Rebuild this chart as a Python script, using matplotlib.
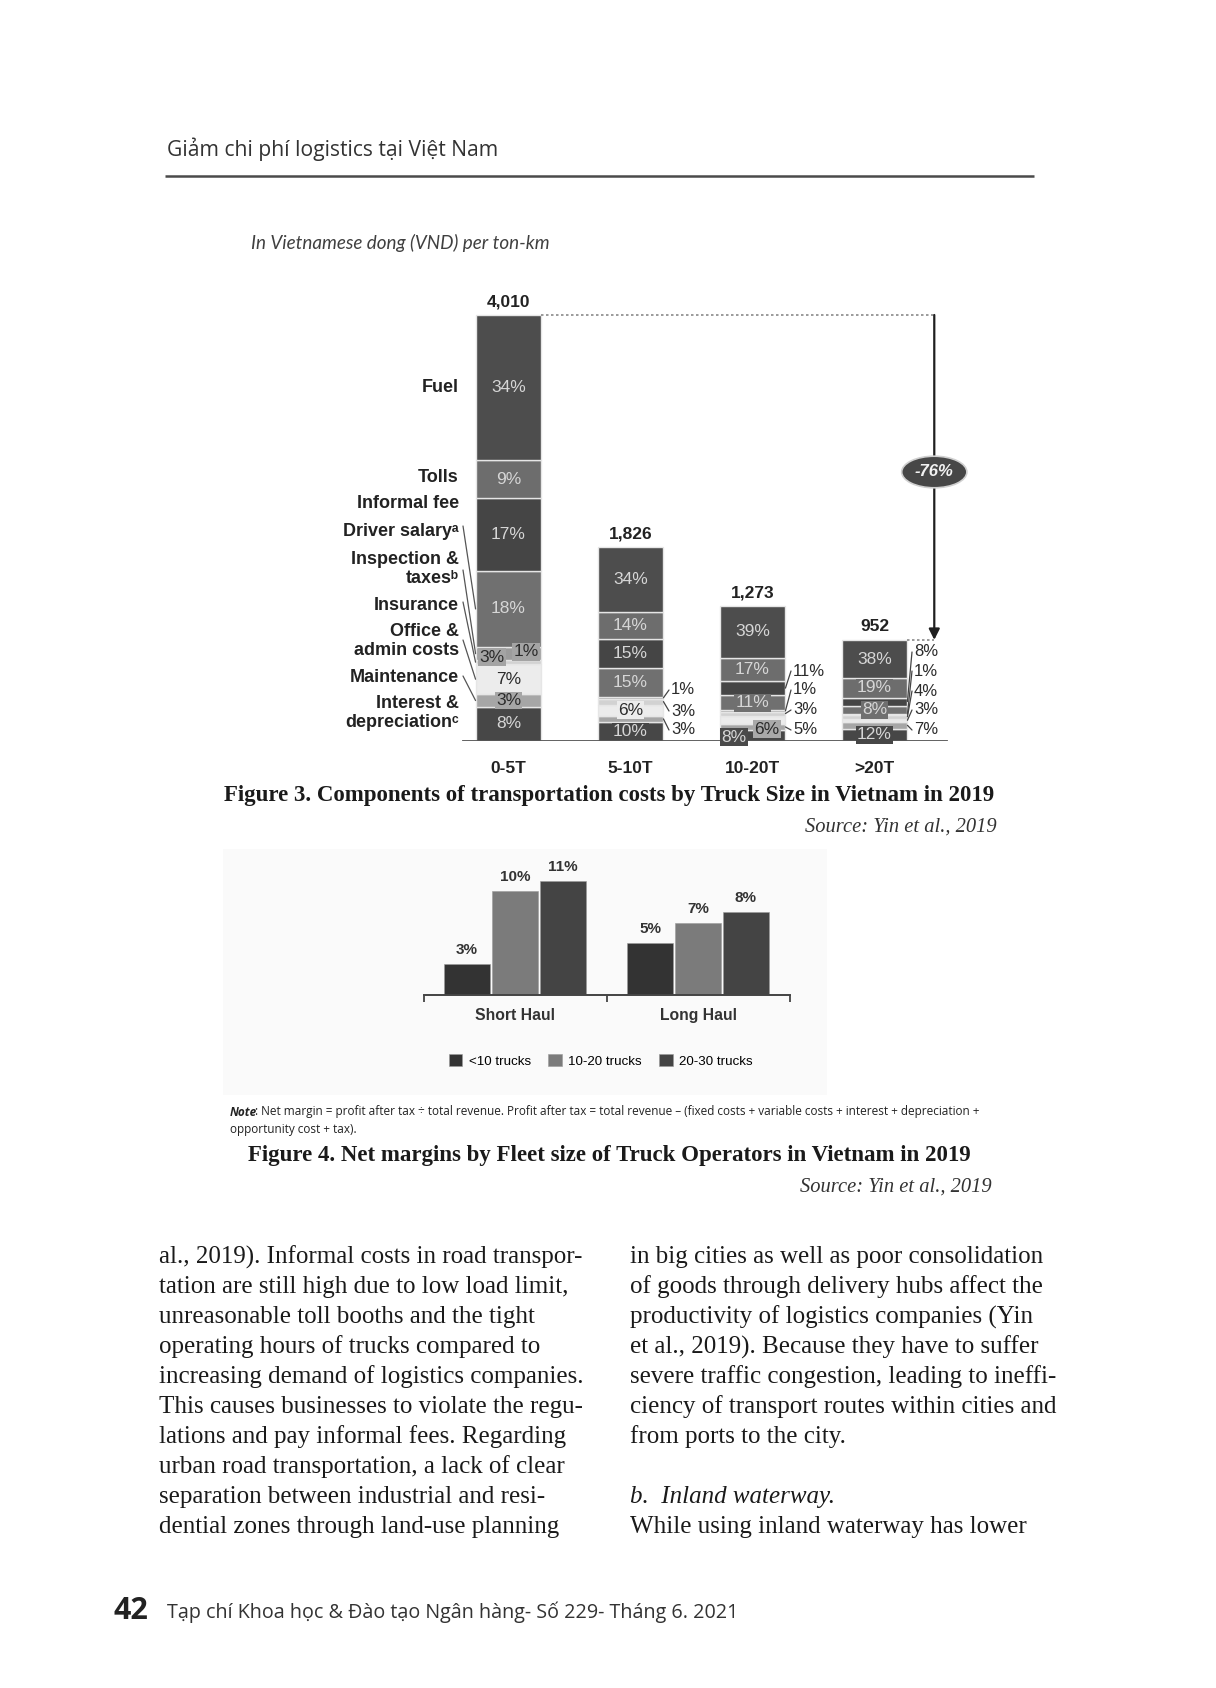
import matplotlib
matplotlib.use("Agg")
import matplotlib.pyplot as plt
from matplotlib.patches import Rectangle, ConnectionPatch
import numpy as np

# ---------------- data ----------------
truck_sizes = ["0-5T", "5-10T", "10-20T", ">20T"]
total_cost_vnd = [4010, 1826, 1273, 952]
cost_components = ["Fuel", "Tolls", "Informal fee", "Driver salary", "Inspection & taxes",
                   "Insurance", "Office & admin costs", "Maintenance", "Interest & depreciation"]
component_labels = ["Fuel", "Tolls", "Informal fee", "Driver salaryᵃ", "Inspection &\ntaxesᵇ",
                    "Insurance", "Office &\nadmin costs", "Maintenance", "Interest &\ndepreciationᶜ"]
fuel_pct = [34, 34, 39, 38]
tolls_pct = [9, 14, 17, 19]
informal_fee_pct = [17, 15, 11, 8]
driver_salary_pct = [18, 15, 11, 8]
inspection_taxes_pct = [3, 1, 1, 1]
insurance_pct = [1, 3, 3, 4]
office_admin_pct = [7, 6, 6, 3]
maintenance_pct = [3, 3, 5, 7]
interest_depreciation_pct = [8, 10, 8, 12]

haul_types = ["Short Haul", "Long Haul"]
fleet_sizes = ["<10 trucks", "10-20 trucks", "20-30 trucks"]
margin_lt10 = [3, 5]
margin_10_20 = [10, 7]
margin_20_30 = [11, 8]

left_column = [
    "al., 2019). Informal costs in road transpor-",
    "tation are still high due to low load limit,",
    "unreasonable toll booths and the tight",
    "operating hours of trucks compared to",
    "increasing demand of logistics companies.",
    "This causes businesses to violate the regu-",
    "lations and pay informal fees. Regarding",
    "urban road transportation, a lack of clear",
    "separation between industrial and resi-",
    "dential zones through land-use planning",
]
right_column = [
    "in big cities as well as poor consolidation",
    "of goods through delivery hubs affect the",
    "productivity of logistics companies (Yin",
    "et al., 2019). Because they have to suffer",
    "severe traffic congestion, leading to ineffi-",
    "ciency of transport routes within cities and",
    "from ports to the city.",
]

# ---------------- page ----------------
W, H = 1216, 1688
fig = plt.figure(figsize=(W / 100, H / 100), dpi=100)
fig.patch.set_facecolor("white")

page = fig.add_axes([0, 0, 1, 1], zorder=0)
page.set_xlim(0, W)
page.set_ylim(H, 0)
page.axis("off")


def px_axes(x0, y0, x1, y1, z=2):
    a = fig.add_axes([x0 / W, 1 - y1 / H, (x1 - x0) / W, (y1 - y0) / H], zorder=z)
    a.set_facecolor("none")
    return a


SANS = ["Liberation Sans", "DejaVu Sans"]
SERIF = ["Liberation Serif", "DejaVu Serif"]
OPEN = ["Open Sans", "DejaVu Sans"]

# header
page.text(167, 149, "Giảm chi phí logistics tại Việt Nam", family=OPEN, fontsize=15.2,
          color="#333333", va="center", ha="left")
page.plot([165, 1034], [175.5, 175.5], color="#4a4a4a", lw=1.8, solid_capstyle="butt")

page.text(251, 243, "In Vietnamese dong (VND) per ton-km", family=["Lato", "DejaVu Sans"],
          style="italic", fontsize=13.6, color="#404040", va="center", ha="left")

# ---------------- Figure 3 : stacked bars ----------------
ax1 = px_axes(270, 270, 1010, 741)
x0px, dxpx = 508.5, 122.0
ax1.set_xlim((270 - x0px) / dxpx, (1010 - x0px) / dxpx)
vpp = 4010 / 426.0
ax1.set_ylim(0, (741 - 270) * vpp)
ax1.axis("off")

shares_top_down = np.array([fuel_pct, tolls_pct, informal_fee_pct, driver_salary_pct,
                            inspection_taxes_pct, insurance_pct, office_admin_pct,
                            maintenance_pct, interest_depreciation_pct], dtype=float)
seg_colors = ["#4d4d4d", "#6d6d6d", "#454545", "#707070", "#9c9c9c",
              "#d2d2d2", "#ececec", "#a6a6a6", "#474747"]
txt_colors = ["#d6d6d6", "#d6d6d6", "#d6d6d6", "#d6d6d6", "#2b2b2b",
              "#2b2b2b", "#2b2b2b", "#2b2b2b", "#d6d6d6"]
totals = np.array(total_cost_vnd, dtype=float)
seg_vals = shares_top_down / shares_top_down.sum(axis=0) * totals
xs = np.arange(len(truck_sizes))
bw = 0.54
n = len(cost_components)
bottoms = np.zeros((n, len(xs)))
acc = np.zeros(len(xs))
for k in range(n - 1, -1, -1):
    bottoms[k] = acc
    ax1.bar(xs, seg_vals[k], bottom=acc, width=bw, color=seg_colors[k],
            edgecolor="#e6e6e6", linewidth=1.0, zorder=2)
    acc = acc + seg_vals[k]
mids = bottoms + seg_vals / 2

# labels placed outside (page px) with leader lines
outside = {
    (1, 4): (671, 690), (1, 5): (671, 711), (1, 7): (671, 730),
    (2, 2): (793, 671), (2, 4): (793, 690), (2, 5): (793, 710), (2, 7): (793, 730),
    (3, 2): (914, 652), (3, 4): (914, 671), (3, 5): (914, 691), (3, 6): (914, 710), (3, 7): (914, 730),
}
# in-bar labels in boxes at shifted positions (page px)
boxed = {
    (0, 4): (492, 657, "#a4a4a4"), (0, 5): (526, 652, "#a4a4a4"),
    (2, 6): (767, 729, "#a9a9a9"), (2, 8): (734, 737, "#4a4a4a"),
}
for i in range(len(xs)):
    for k in range(n):
        lab = f"{int(shares_top_down[k, i])}%"
        if (i, k) in outside:
            px, py = outside[(i, k)]
            page.text(px, py, lab, family=SANS, fontsize=12, color="#2b2b2b",
                      ha="left", va="center", zorder=5)
            con = ConnectionPatch(xyA=(px - 2, py), coordsA=page.transData,
                                  xyB=(xs[i] + bw / 2, mids[k, i]), coordsB=ax1.transData,
                                  color="#444444", lw=0.9, zorder=6)
            fig.add_artist(con)
        elif (i, k) in boxed:
            px, py, bc = boxed[(i, k)]
            ax1.text(px, py, lab, family=SANS, fontsize=12.5, color=txt_colors[k],
                     ha="center", va="center", zorder=6, transform=page.transData, clip_on=False,
                     bbox=dict(boxstyle="square,pad=0.1", fc=bc, ec="none"))
        else:
            ax1.text(xs[i], mids[k, i], lab, family=SANS, fontsize=12.5, color=txt_colors[k],
                     ha="center", va="center", zorder=4,
                     bbox=dict(boxstyle="square,pad=0.08", fc=seg_colors[k], ec="none"))

# totals
for i, t in enumerate(total_cost_vnd):
    ax1.annotate(f"{t:,}", (xs[i], t), xytext=(0, 4), textcoords="offset points",
                 ha="center", va="bottom", family=SANS, fontsize=12.5, fontweight="bold",
                 color="#222222")

# category labels
for i, c in enumerate(truck_sizes):
    ax1.annotate(c, (xs[i], 0), xytext=(0, -20), textcoords="offset points",
                 ha="center", va="center", family=SANS, fontsize=12.5, fontweight="bold",
                 color="#222222")

# baseline
ax1.plot([-0.373, 3.594], [0, 0], color="#555555", lw=1.3, zorder=3)

# reduction arrow
arrow_x = 3.49
ax1.plot([xs[0] + bw / 2, arrow_x], [total_cost_vnd[0]] * 2, color="#8a8a8a", lw=1.2,
         ls=(0, (1.5, 1.5)), zorder=3)
ax1.plot([xs[3] + bw / 2, arrow_x], [total_cost_vnd[3]] * 2, color="#8a8a8a", lw=1.2,
         ls=(0, (1.5, 1.5)), zorder=3)
ax1.annotate("", xy=(arrow_x, total_cost_vnd[3]), xytext=(arrow_x, total_cost_vnd[0]),
             arrowprops=dict(arrowstyle="-|>", color="#1f1f1f", lw=1.6, mutation_scale=16,
                             shrinkA=0, shrinkB=0), zorder=4)
change = (total_cost_vnd[3] - total_cost_vnd[0]) / total_cost_vnd[0] * 100
ax1.text(arrow_x, (741 - 472) * vpp, f"{change:.0f}%", ha="center", va="center",
         family=SANS, fontsize=12, fontweight="bold", style="italic", color="#f2f2f2",
         zorder=6, bbox=dict(boxstyle="ellipse,pad=0.22", fc="#474747", ec="#d0d0d0", lw=1.2))

# component names on the left
name_pos = [387, 478, 504, 532, 569, 605, 641, 677, 713]
leader = {3: 526, 4: 570, 5: 602, 6: 640, 7: 676}
for k, (lab, py) in enumerate(zip(component_labels, name_pos)):
    page.text(459, py, lab, family=SANS, fontsize=13, fontweight="bold", color="#222222",
              ha="right", va="center", multialignment="right", linespacing=1.15, zorder=5)
    if k in leader:
        con = ConnectionPatch(xyA=(463, leader[k]), coordsA=page.transData,
                              xyB=(xs[0] - bw / 2, mids[k, 0]), coordsB=ax1.transData,
                              color="#555555", lw=0.9, zorder=6)
        fig.add_artist(con)

page.text(609, 795, "Figure 3. Components of transportation costs by Truck Size in Vietnam in 2019",
          family=SERIF, fontsize=16.5, fontweight="bold", ha="center", va="center", color="#1a1a1a")
page.text(997, 827, "Source: Yin et al., 2019", family=SERIF, style="italic", fontsize=14.8,
          ha="right", va="center", color="#333333")

# ---------------- Figure 4 : grouped bars ----------------
page.add_patch(Rectangle((223, 849), 604, 246, facecolor="#fafafa", edgecolor="none", zorder=0))

ax2 = px_axes(300, 840, 840, 995.4)
g0, gdx = 515.0, 183.0
ax2.set_xlim((300 - g0) / gdx, (840 - g0) / gdx)
ppp = 10.4
ax2.set_ylim(0, (995.4 - 840) / ppp)
series = [margin_lt10, margin_10_20, margin_20_30]
bar_cols = ["#333333", "#7b7b7b", "#444444"]
gx = np.arange(len(haul_types))
off = 0.262
handles = []
for j, (vals, col) in enumerate(zip(series, bar_cols)):
    b = ax2.bar(gx + (j - 1) * off, vals, width=0.252, color=col, edgecolor="#9a9a9a",
                linewidth=0.4, zorder=2)
    handles.append(b)
    for xv, v in zip(gx + (j - 1) * off, vals):
        ax2.annotate(f"{v}%", (xv, v), xytext=(0, 5), textcoords="offset points",
                     ha="center", va="bottom", family=SANS, fontsize=11,
                     fontweight="bold", color="#333333")
for s in ["top", "right", "left"]:
    ax2.spines[s].set_visible(False)
ax2.spines["bottom"].set_bounds(-0.5, 1.5)
ax2.spines["bottom"].set_color("#444444")
ax2.spines["bottom"].set_linewidth(1.4)
ax2.set_yticks([])
ax2.set_xticks(gx)
ax2.set_xticklabels(haul_types, family=SANS, fontsize=11.3, fontweight="bold", color="#333333")
ax2.set_xticks([-0.5, 0.5, 1.5], minor=True)
ax2.tick_params(axis="x", which="major", length=0, pad=9)
ax2.tick_params(axis="x", which="minor", length=5, width=1.3, color="#444444", direction="out")

fig.legend(handles, fleet_sizes, loc="center", bbox_to_anchor=(601 / W, 1 - 1061 / H), ncol=3,
           frameon=False, handlelength=1.0, handleheight=1.0, handletextpad=0.5,
           columnspacing=1.3, prop=dict(family=SANS, size=9.6))

note = page.text(230, 1112, "Note", family=OPEN, fontsize=8.45,
                 fontweight="bold", style="italic", color="#222222", ha="left", va="center")
page.annotate(": Net margin = profit after tax ÷ total revenue. Profit after tax = total revenue – "
              "(fixed costs + variable costs + interest + depreciation +",
              xy=(1, 0.5), xycoords=note, xytext=(-1.5, 0), textcoords="offset points",
              ha="left", va="center", family=OPEN, fontsize=8.45, color="#222222")
page.text(230, 1129, "opportunity cost + tax).", family=OPEN, fontsize=8.45,
          color="#222222", ha="left", va="center")

page.text(609, 1155, "Figure 4. Net margins by Fleet size of Truck Operators in Vietnam in 2019",
          family=SERIF, fontsize=16.5, fontweight="bold", ha="center", va="center", color="#1a1a1a")
page.text(992, 1187, "Source: Yin et al., 2019", family=SERIF, style="italic", fontsize=14.8,
          ha="right", va="center", color="#333333")

# ---------------- body text ----------------
BODY = 18.0
for r, line in enumerate(left_column):
    page.text(159, 1257 + 30 * r, line, family=SERIF, fontsize=BODY, color="#1a1a1a",
              ha="left", va="center")
for r, line in enumerate(right_column):
    page.text(629.5, 1257 + 30 * r, line, family=SERIF, fontsize=BODY, color="#1a1a1a",
              ha="left", va="center")
page.text(629.5, 1497, "b.  Inland waterway.", family=SERIF, style="italic", fontsize=BODY,
          color="#1a1a1a", ha="left", va="center")
page.text(629.5, 1527, "While using inland waterway has lower", family=SERIF, fontsize=BODY,
          color="#1a1a1a", ha="left", va="center")

# footer
page.text(114, 1611, "42", family=OPEN, fontsize=22, fontweight="bold", color="#222222",
          ha="left", va="center")
page.text(167, 1612, "Tạp chí Khoa học & Đào tạo Ngân hàng- Số 229- Tháng 6. 2021", family=OPEN,
          fontsize=14.2, color="#333333", ha="left", va="center")

fig.savefig("out.png", dpi=100, facecolor="white")
